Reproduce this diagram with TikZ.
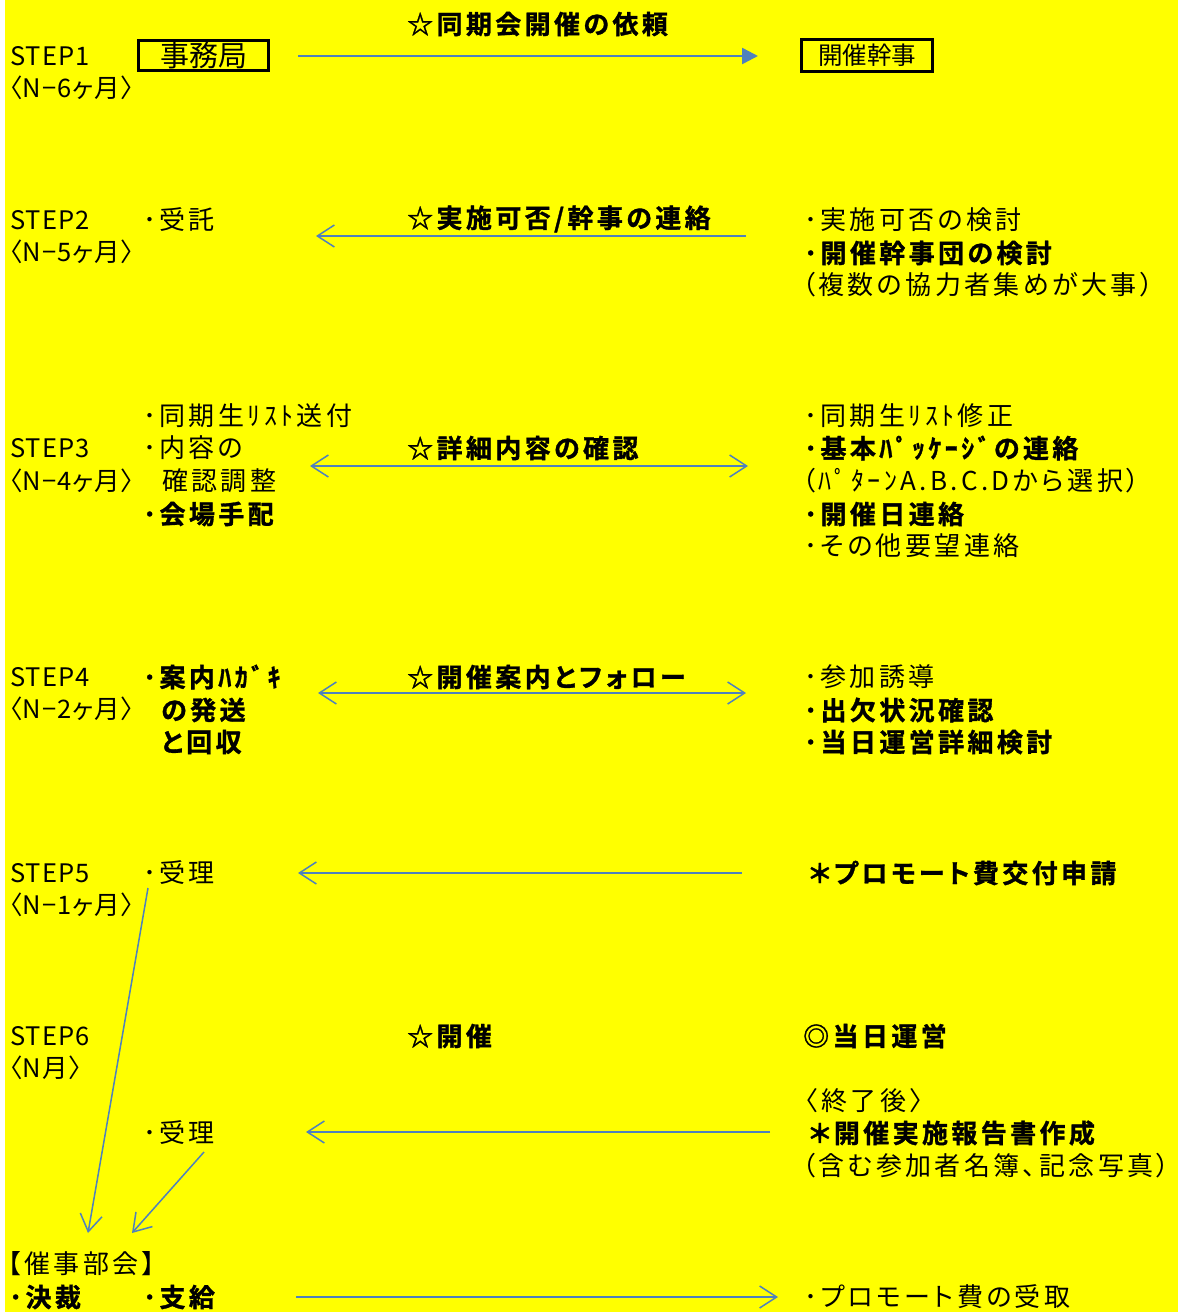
\documentclass[tikz,border=0pt]{standalone}
\usepackage{fontspec}
\usetikzlibrary{arrows.meta}
\newfontfamily\jpn{Noto Sans CJK JP}[BoldFont={Noto Sans CJK JP Bold},BoldFeatures={FakeBold=1.2},RawFeature=+palt,LetterSpace=13]
\newfontfamily\jpnt{Noto Sans CJK JP}[RawFeature=+palt]
\newfontfamily\jpns{Noto Sans CJK JP}[RawFeature=+palt,LetterSpace=4]
\definecolor{bg}{HTML}{FFFF00}
\definecolor{arr}{HTML}{4F81BD}
\tikzset{
  txt/.style={anchor=west, inner sep=0pt, font=\jpn\fontsize{26}{32}\selectfont},
  bt/.style={anchor=west, inner sep=0pt, font=\jpn\bfseries\fontsize{26}{32}\selectfont},
  stp/.style={anchor=west, inner sep=0pt, font=\jpns\fontsize{25.5}{32}\selectfont},
  flow/.style={draw=arr, line width=1.5pt, -{Straight Barb[length=17pt,width=22pt,line width=1.5pt]}},
  flow2/.style={draw=arr, line width=1.5pt, {Straight Barb[length=17pt,width=22pt,line width=1.5pt]}-{Straight Barb[length=17pt,width=22pt,line width=1.5pt]}},
  boxa/.style={draw=black, line width=3pt, inner sep=0pt, minimum width=130pt, minimum height=30pt, font=\jpnt\fontsize{29}{30}\selectfont},
  boxb/.style={draw=black, line width=3pt, inner sep=0pt, minimum width=131pt, minimum height=32pt, font=\jpnt\fontsize{24.5}{30}\selectfont},
}
\begin{document}
\begin{tikzpicture}[x=1pt,y=-1pt]
\useasboundingbox (0,0) rectangle (1178,1312);
\fill[bg] (5,0) rectangle (1178,1312);

% STEP labels
\node[stp] (s1) at (10,56) {STEP1};
\node[stp] (s1m) at (9,88) {〈N−6ヶ月〉};
\node[stp] (s2) at (10,220) {STEP2};
\node[stp] (s2m) at (9,252) {〈N−5ヶ月〉};
\node[stp] (s3) at (10,448) {STEP3};
\node[stp] (s3m) at (9,481) {〈N−4ヶ月〉};
\node[stp] (s4) at (10,677) {STEP4};
\node[stp] (s4m) at (9,709) {〈N−2ヶ月〉};
\node[stp] (s5) at (10,873) {STEP5};
\node[stp] (s5m) at (9,905) {〈N−1ヶ月〉};
\node[stp] (s6) at (10,1036) {STEP6};
\node[stp] (s6m) at (9,1068) {〈N月〉};

% STEP1
\node[boxa] (jim) at (203.5,55.5) {事務局};
\node[boxb] (kan) at (867,55.5) {開催幹事};
\node[bt] (c1) at (407,24) {☆同期会開催の依頼};
\coordinate (a1s) at (298,56);
\coordinate (a1e) at (758,56);
\draw[draw=arr, line width=2.5pt, -{Triangle[length=16pt,width=16pt]}] (a1s) -- (a1e);

% STEP2
\node[txt] (l2a) at (143,220) {･受託};
\node[bt] (c2) at (407,219) {☆実施可否/幹事の連絡};
\coordinate (a2s) at (746,236);
\coordinate (a2e) at (316,236);
\draw[flow] (a2s) -- (a2e);
\node[txt] (r2a) at (804,220) {･実施可否の検討};
\node[bt] (r2b) at (804,253) {･開催幹事団の検討};
\node[txt] (r2c) at (802,285) {（複数の協力者集めが大事）};

% STEP3
\node[txt] (l3a) at (143,416) {･同期生ﾘｽﾄ送付};
\node[txt] (l3b) at (143,448) {･内容の};
\node[txt] (l3c) at (162,481) {確認調整};
\node[bt] (l3d) at (143,514) {･会場手配};
\node[bt] (c3) at (407,448) {☆詳細内容の確認};
\coordinate (a3s) at (310,466);
\coordinate (a3e) at (748,466);
\draw[flow2] (a3s) -- (a3e);
\node[txt] (r3a) at (804,416) {･同期生ﾘｽﾄ修正};
\node[bt] (r3b) at (804,448) {･基本ﾊﾟｯｹｰｼﾞの連絡};
\node[txt] (r3c) at (802,481) {（ﾊﾟﾀｰﾝA.B.C.Dから選択）};
\node[bt] (r3d) at (804,514) {･開催日連絡};
\node[txt] (r3e) at (804,546) {･その他要望連絡};

% STEP4
\node[bt] (l4a) at (143,677) {･案内ﾊｶﾞｷ};
\node[bt] (l4b) at (161,710) {の発送};
\node[bt] (l4c) at (161,742) {と回収};
\node[bt] (c4) at (407,677) {☆開催案内とフォロー};
\coordinate (a4s) at (318,693);
\coordinate (a4e) at (746,693);
\draw[flow2] (a4s) -- (a4e);
\node[txt] (r4a) at (804,677) {･参加誘導};
\node[bt] (r4b) at (804,710) {･出欠状況確認};
\node[bt] (r4c) at (804,742) {･当日運営詳細検討};

% STEP5
\node[txt] (l5a) at (143,873) {･受理};
\coordinate (a5s) at (742,873);
\coordinate (a5e) at (298,873);
\draw[flow] (a5s) -- (a5e);
\node[bt] (r5a) at (809,873) {＊プロモート費交付申請};

% STEP6
\node[bt] (c6) at (407,1036) {☆開催};
\node[bt] (r6a) at (803,1036) {◎当日運営};
\node[txt] (r6b) at (805,1101) {〈終了後〉};
\node[bt] (r6c) at (809,1133) {＊開催実施報告書作成};
\node[txt] (r6d) at (802,1166) {（含む参加者名簿、記念写真）};
\node[txt] (l6a) at (143,1133) {･受理};
\coordinate (a6s) at (770,1132);
\coordinate (a6e) at (306,1132);
\draw[flow] (a6s) -- (a6e);

% bottom
\node[txt] (b1) at (8,1264) {【催事部会】};
\node[bt] (b2) at (9,1297) {･決裁};
\node[bt] (b3) at (143,1297) {･支給};
\node[txt] (b4) at (804,1297) {･プロモート費の受取};
\coordinate (a7s) at (296,1297);
\coordinate (a7e) at (778,1297);
\draw[flow] (a7s) -- (a7e);

% diagonals
\coordinate (d1s) at (148,888);
\coordinate (d1e) at (88,1233);
\coordinate (d2s) at (204,1152);
\coordinate (d2e) at (132,1233);
\draw[flow] (d1s) -- (d1e);
\draw[flow] (d2s) -- (d2e);
\end{tikzpicture}
\end{document}
